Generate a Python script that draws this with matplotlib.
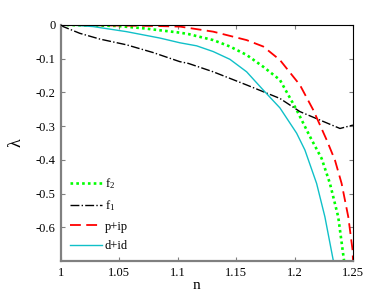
import matplotlib
matplotlib.use("Agg")
import matplotlib.pyplot as plt

# Data
n_d = [1.0, 1.0077, 1.0277, 1.0562, 1.0848, 1.1019, 1.1162, 1.1304, 1.1447, 1.1590,
       1.1732, 1.1875, 1.2018, 1.2089, 1.2189, 1.2260, 1.2331, 1.2341]
lam_d = [0.0, 0.0, -0.005, -0.020, -0.039, -0.053, -0.062, -0.079, -0.102, -0.139,
         -0.193, -0.246, -0.321, -0.371, -0.470, -0.569, -0.697, -0.70]

n_f2 = [1.0, 1.0477, 1.0705, 1.1019, 1.1090, 1.1304, 1.1447, 1.1590, 1.1732, 1.1875,
        1.2018, 1.2132, 1.2232, 1.2303, 1.2374, 1.2423, 1.2425]
lam_f2 = [0.0, -0.003, -0.010, -0.023, -0.027, -0.045, -0.064, -0.089, -0.124, -0.163,
          -0.252, -0.331, -0.396, -0.470, -0.569, -0.697, -0.70]

n_p = [1.0, 1.0788, 1.1019, 1.1304, 1.1590, 1.1732, 1.1875, 1.2046, 1.2160, 1.2275,
       1.2346, 1.2403, 1.2460, 1.2497, 1.2500]
lam_p = [0.0, -0.003, -0.005, -0.020, -0.045, -0.064, -0.104, -0.178, -0.252, -0.341,
         -0.401, -0.470, -0.569, -0.668, -0.70]

n_f1 = [1.0, 1.002, 1.0163, 1.0334, 1.0562, 1.0790, 1.1019, 1.1090, 1.1304, 1.1590,
        1.1875, 1.2046, 1.2217, 1.2389, 1.2500]
lam_f1 = [0.0, -0.005, -0.025, -0.042, -0.059, -0.082, -0.109, -0.114, -0.139, -0.178,
          -0.218, -0.257, -0.282, -0.307, -0.297]

xticks = [1, 1.05, 1.1, 1.15, 1.2, 1.25]
xticklabels = ["1", "1.05", "1.1", "1.15", "1.2", "1.25"]
yticks = [0, -0.1, -0.2, -0.3, -0.4, -0.5, -0.6]
yticklabels = ["0", "-0.1", "-0.2", "-0.3", "-0.4", "-0.5", "-0.6"]

plt.rcParams['font.family'] = ['Liberation Serif', 'DejaVu Serif']
plt.rcParams['mathtext.fontset'] = 'custom'
plt.rcParams['mathtext.rm'] = 'Liberation Serif'
plt.rcParams['mathtext.it'] = 'Liberation Serif'

fig = plt.figure(figsize=(3.9, 2.93), dpi=100)
ax = fig.add_axes([0.156, 0.109, 0.749, 0.806])

ax.plot(n_f2, lam_f2, color='#00ff00', linestyle=(0, (1, 1.2)), linewidth=1.9, label='f$_2$')
ax.plot(n_f1, lam_f1, color='black', linestyle='-.', linewidth=1.0, label='f$_1$')
ax.plot(n_p, lam_p, color='#ff0000', linestyle=(0, (6, 3)), linewidth=1.3, label='p+ip')
ax.plot(n_d, lam_d, color='#10c0c8', linestyle='-', linewidth=1.0, label='d+id')

ax.set_xlim(1, 1.25)
ax.set_ylim(-0.7, 0)
ax.set_xticks(xticks)
ax.set_xticklabels(xticklabels)
ax.set_yticks(yticks)
ax.set_yticklabels(yticklabels)
ax.tick_params(direction='in', top=True, right=True, labelsize=9, length=3, color='#808080', pad=4)

for s in ['left', 'bottom']:
    ax.spines[s].set_color('#808080')
    ax.spines[s].set_linewidth(1.6)
for s in ['top', 'right']:
    ax.spines[s].set_color('black')
    ax.spines[s].set_linewidth(0.8)

ax.set_xlabel('n', fontsize=11)
ax.xaxis.set_label_coords(0.464, -0.075)
ax.set_ylabel('λ', fontsize=13, rotation=90)
ax.yaxis.set_label_coords(-0.125, 0.5)

leg = ax.legend(loc='lower left', frameon=False, fontsize=9, handlelength=2.6,
                borderaxespad=0.3, labelspacing=0.6, handletextpad=0.2,
                bbox_to_anchor=(0.0, 0.0))

fig.savefig('out.png', dpi=100)
